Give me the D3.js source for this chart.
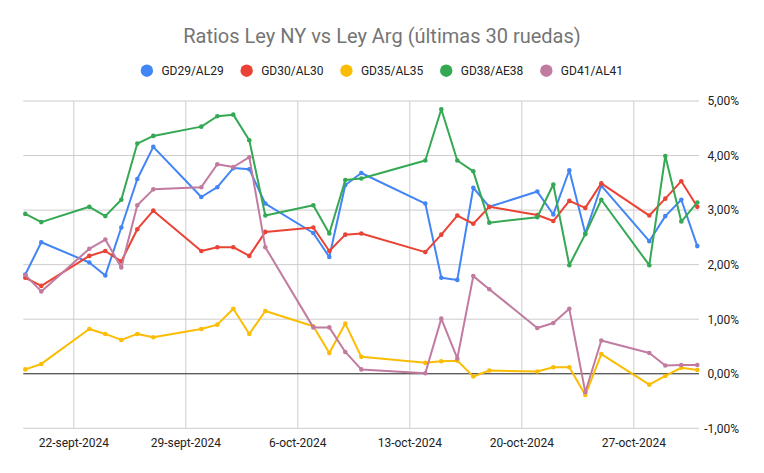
<!DOCTYPE html>
<html>
<head>
<meta charset="utf-8">
<script src="https://cdn.jsdelivr.net/npm/d3@7"></script>
<style>
  body { margin: 0; background: #fff; }
  svg { display: block; font-family: Roboto, "Noto Sans", sans-serif; }
</style>
</head>
<body>
<svg id="chart" width="764" height="473"></svg>
<script>
// trading days (30 ruedas)
const dates = [
  "2024-09-19", "2024-09-20", "2024-09-23", "2024-09-24", "2024-09-25", "2024-09-26", "2024-09-27",
  "2024-09-30", "2024-10-01", "2024-10-02", "2024-10-03", "2024-10-04",
  "2024-10-07", "2024-10-08", "2024-10-09", "2024-10-10",
  "2024-10-14", "2024-10-15", "2024-10-16", "2024-10-17", "2024-10-18",
  "2024-10-21", "2024-10-22", "2024-10-23", "2024-10-24", "2024-10-25",
  "2024-10-28", "2024-10-29", "2024-10-30", "2024-10-31"
];

const gd29 = [1.82, 2.41, 2.04, 1.80, 2.68, 3.57, 4.16, 3.24, 3.42, 3.77, 3.75, 3.12,
  2.58, 2.14, 3.46, 3.68, 3.12, 1.76, 1.72, 3.41, 3.06,
  3.34, 2.92, 3.73, 2.57, 3.45, 2.43, 2.89, 3.19, 2.34];
const gd30 = [1.76, 1.61, 2.16, 2.25, 2.06, 2.65, 2.99, 2.25, 2.32, 2.32, 2.16, 2.60,
  2.68, 2.25, 2.55, 2.57, 2.23, 2.55, 2.90, 2.75, 3.06,
  2.91, 2.80, 3.17, 3.04, 3.49, 2.90, 3.21, 3.53, 3.06];
const gd35 = [0.08, 0.18, 0.82, 0.73, 0.62, 0.73, 0.67, 0.82, 0.90, 1.19, 0.73, 1.15,
  0.87, 0.38, 0.92, 0.31, 0.20, 0.23, 0.24, -0.05, 0.06,
  0.04, 0.12, 0.12, -0.39, 0.36, -0.20, -0.04, 0.11, 0.07];
const gd38 = [2.93, 2.78, 3.06, 2.89, 3.19, 4.22, 4.36, 4.53, 4.72, 4.75, 4.28, 2.90,
  3.09, 2.57, 3.55, 3.58, 3.91, 4.85, 3.91, 3.71, 2.77,
  2.87, 3.47, 1.99, 2.56, 3.19, 1.99, 3.99, 2.79, 3.14];
const gd41 = [1.81, 1.51, 2.29, 2.46, 1.95, 3.09, 3.38, 3.42, 3.84, 3.79, 3.97, 2.32,
  0.85, 0.85, 0.40, 0.08, 0.01, 1.01, 0.28, 1.79, 1.55,
  0.84, 0.93, 1.19, -0.34, 0.61, 0.38, 0.15, 0.16, 0.16];

const seriesNames = ["GD29/AL29", "GD30/AL30", "GD35/AL35", "GD38/AE38", "GD41/AL41"];
const seriesColors = ["#4285f4", "#ea4335", "#fbbc04", "#34a853", "#c27ba0"];
const xTickDates = ["2024-09-22", "2024-09-29", "2024-10-06", "2024-10-13", "2024-10-20", "2024-10-27"];
const yTicks = [-1, 0, 1, 2, 3, 4, 5];

const parse = d3.timeParse("%Y-%m-%d");
const days = dates.map(parse);
const values = [gd29, gd30, gd35, gd38, gd41];
const series = seriesNames.map((name, i) => ({
  name: name,
  color: seriesColors[i],
  data: days.map((d, j) => ({ date: d, value: values[i][j] }))
}));

const left = 23.3, right = 699;
const x = d3.scaleTime()
  .domain([days[0], days[days.length - 1]])
  .range([25.3, 697.3]);
const y = d3.scaleLinear().domain([-1, 5]).range([428.3, 101]);

const svg = d3.select("#chart");

// gridlines
svg.append("g")
  .selectAll("line")
  .data(yTicks)
  .join("line")
  .attr("x1", left).attr("x2", right)
  .attr("y1", d => y(d)).attr("y2", d => y(d))
  .attr("stroke", "#cccccc").attr("stroke-width", 1);

const months = ["ene", "feb", "mar", "abr", "may", "jun", "jul", "ago", "sept", "oct", "nov", "dic"];
const xAxis = d3.axisBottom(x)
  .tickValues(xTickDates.map(parse))
  .tickSize(-(y(-1) - y(5)))
  .tickPadding(10)
  .tickFormat(d => `${d.getDate()}-${months[d.getMonth()]}-${d.getFullYear()}`);
const xg = svg.append("g")
  .attr("transform", `translate(0,${y(-1)})`)
  .call(xAxis);
xg.select(".domain").remove();
xg.selectAll("line").attr("stroke", "#cccccc");
xg.selectAll("text")
  .attr("fill", "#222222")
  .attr("font-size", 12)
  .attr("font-family", "Roboto");

const yAxis = d3.axisRight(y)
  .tickValues(yTicks)
  .tickSize(0)
  .tickFormat(d => d3.format(".2f")(d).replace(".", ",").replace("−", "-") + "%");
const yg = svg.append("g")
  .attr("transform", `translate(${right},0)`)
  .call(yAxis);
yg.select(".domain").remove();
yg.selectAll("text")
  .attr("x", 40)
  .attr("text-anchor", "end")
  .attr("fill", "#222222")
  .attr("font-size", 12)
  .attr("font-family", "Roboto");

// zero baseline
svg.append("line")
  .attr("x1", left).attr("x2", right)
  .attr("y1", y(0)).attr("y2", y(0))
  .attr("stroke", "#333333").attr("stroke-width", 1);

const line = d3.line()
  .x(d => x(d.date))
  .y(d => y(d.value));

const sg = svg.append("g")
  .selectAll("g")
  .data(series)
  .join("g");
sg.append("path")
  .attr("fill", "none")
  .attr("stroke", d => d.color)
  .attr("stroke-width", 2)
  .attr("stroke-linejoin", "round")
  .attr("d", d => line(d.data));
sg.selectAll("circle")
  .data(d => d.data.map(p => ({ ...p, color: d.color })))
  .join("circle")
  .attr("cx", d => x(d.date))
  .attr("cy", d => y(d.value))
  .attr("r", 2.3)
  .attr("fill", d => d.color);

// title
svg.append("text")
  .attr("x", 382).attr("y", 43)
  .attr("text-anchor", "middle")
  .attr("fill", "#757575")
  .attr("font-size", 20)
  .text("Ratios Ley NY vs Ley Arg (últimas 30 ruedas)");

// legend
const legend = svg.append("g");
let cx = 0;
series.forEach(s => {
  const item = legend.append("g").attr("transform", `translate(${cx},0)`);
  item.append("circle").attr("cx", 6).attr("cy", 0).attr("r", 6.2).attr("fill", s.color);
  const t = item.append("text")
    .attr("x", 20.5).attr("y", 4.3)
    .attr("fill", "#222222")
    .attr("font-size", 12)
    .text(s.name);
  cx += 20.5 + t.node().getComputedTextLength() + 17;
});
const legendW = cx - 17;
legend.attr("transform", `translate(${382 - legendW / 2},70.7)`);
</script>
</body>
</html>
